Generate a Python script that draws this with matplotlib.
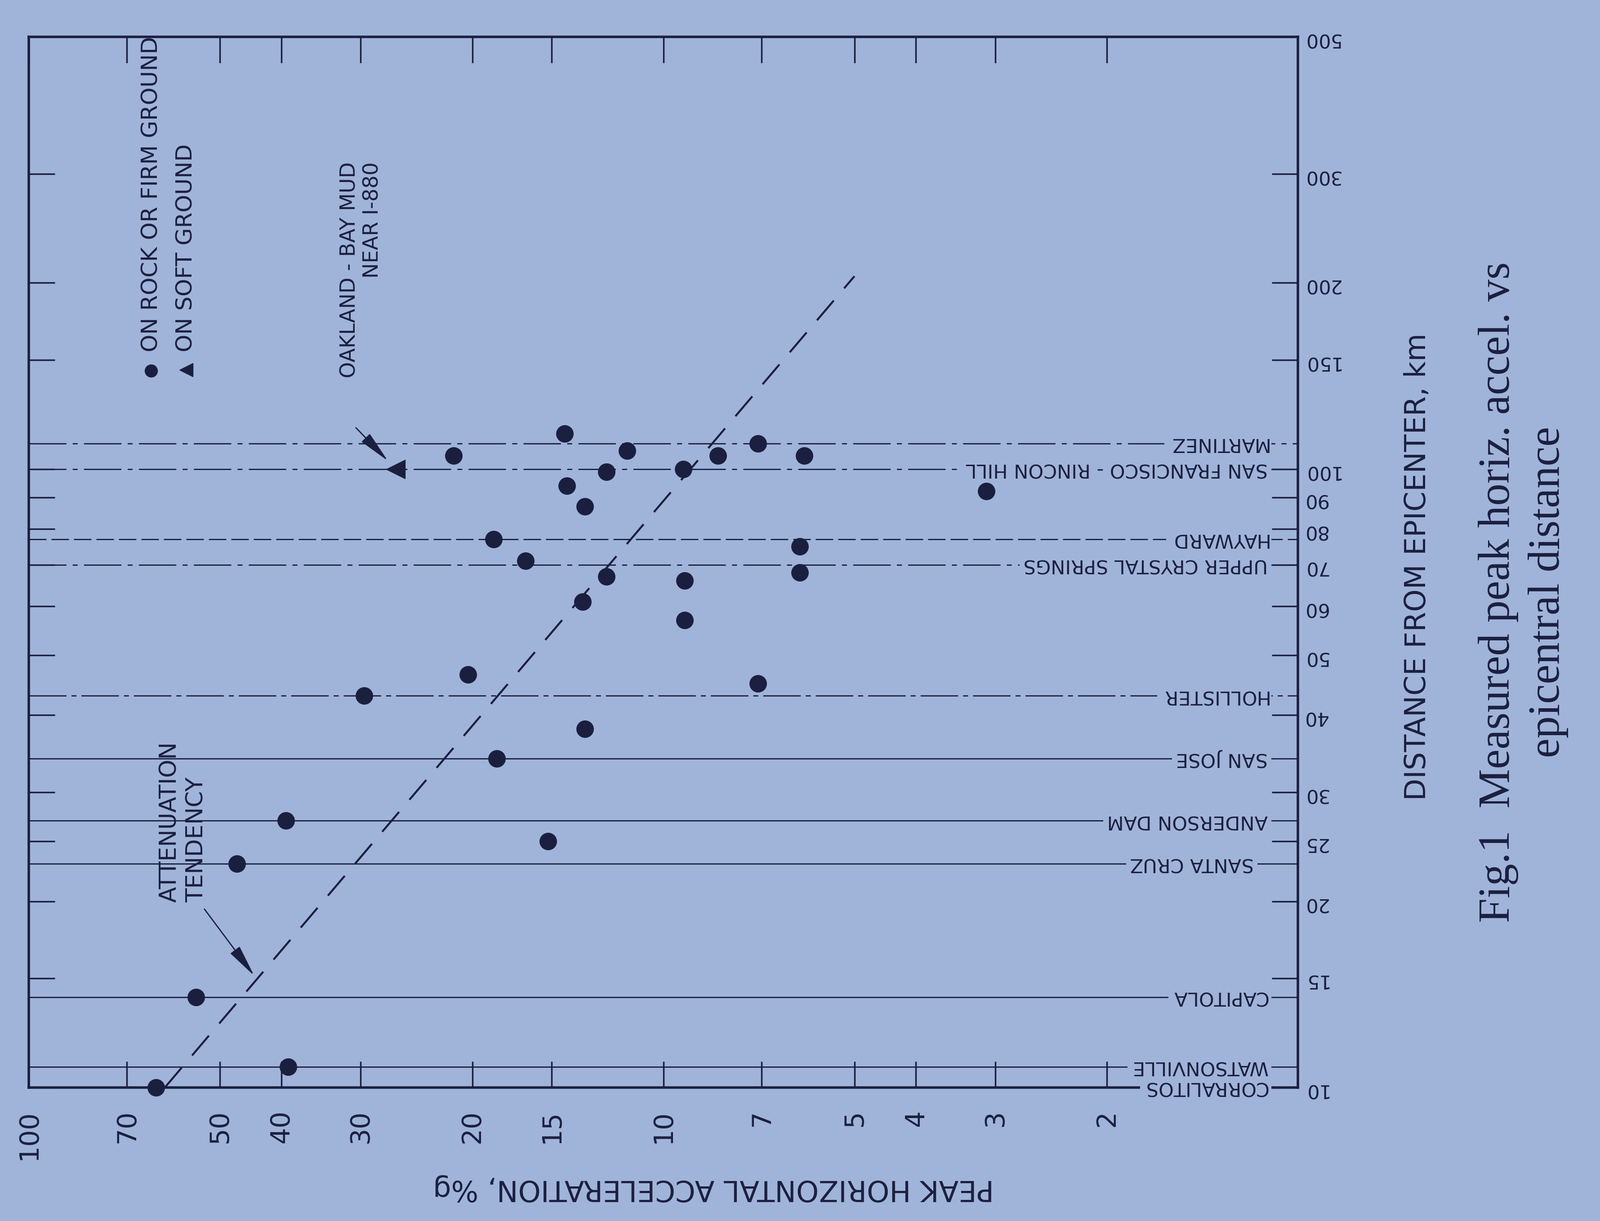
import matplotlib
matplotlib.use("Agg")
import matplotlib.pyplot as plt
from matplotlib.ticker import NullLocator

# colours of the photographed page
bg = "#a0b4d9"
ink = "#1b1f3f"

# axis ticks
acc_ticks = [100, 70, 50, 40, 30, 20, 15, 10, 7, 5, 4, 3, 2]
dist_ticks = [10, 15, 20, 25, 30, 40, 50, 60, 70, 80, 90, 100, 150, 200, 300, 500]

# recording stations (distance from epicenter, km)
station_names = ["CORRALITOS", "WATSONVILLE", "CAPITOLA", "SANTA CRUZ", "ANDERSON DAM",
                 "SAN JOSE", "HOLLISTER", "UPPER CRYSTAL SPRINGS", "HAYWARD",
                 "SAN FRANCISCO - RINCON HILL", "MARTINEZ"]
station_dist = [10, 10.8, 14, 23, 27, 34, 43, 70, 77, 100, 110]

# measured peak acceleration (%g) vs distance (km), rock / firm ground
rock_acc = [14.3, 21.4, 11.4, 7.1, 8.2, 6.0, 12.3, 9.3, 14.2, 13.3, 3.1,
            18.5, 6.1, 16.5, 12.3, 9.25, 6.1, 13.4, 9.25, 20.3, 7.1, 29.6,
            13.3, 18.3, 39.3, 15.2, 47, 54.5, 39, 63]
rock_dist = [114, 105, 107, 110, 105, 105, 99, 100, 94, 87, 92,
             77, 75, 71, 67, 66, 68, 61, 57, 46.5, 45, 43,
             38, 34, 27, 25, 23, 14, 10.8, 10]

# soft ground (Oakland, bay mud)
soft_acc = [26.4]
soft_dist = [100]

# attenuation tendency line
att_acc = [61, 5.0]
att_dist = [10, 205]

plt.rcParams["font.family"] = ["DejaVu Sans"]

fig = plt.figure(figsize=(35.59, 27.17), dpi=100, facecolor=bg)
ax = fig.add_axes([0.0179, 0.1094, 0.7934, 0.8605], facecolor=bg)

ax.set_xscale("log")
ax.set_yscale("log")
ax.set_xlim(100, 1)
ax.set_ylim(10, 500)

ax.xaxis.set_minor_locator(NullLocator())
ax.yaxis.set_minor_locator(NullLocator())
ax.set_xticks(acc_ticks)
ax.set_xticklabels([str(v) for v in acc_ticks])
ax.set_yticks(dist_ticks)
ax.set_yticklabels([str(v) for v in dist_ticks])

ax.tick_params(axis="x", direction="in", length=42, width=2.5, color=ink,
               top=True, bottom=True, labelrotation=90, labelsize=42,
               labelcolor=ink, pad=36)
ax.tick_params(axis="y", direction="in", length=42, width=2.5, color=ink,
               left=True, right=True, labelleft=False, labelright=True,
               labelrotation=180, labelsize=31, labelcolor=ink, pad=8)
for s in ax.spines.values():
    s.set_color(ink)
    s.set_linewidth(4)

# station lines with upside-down labels
styles = ["-", "-", "-", "-", "-", "-", (0, (30, 4, 4, 4)), (0, (30, 5, 4, 5)),
          (0, (14, 4)), (0, (30, 5, 4, 5)), (0, (30, 5, 4, 5))]
for name, d, st in zip(station_names, station_dist, styles):
    if d > 10:
        ax.axhline(d, color=ink, lw=2, ls=st, zorder=1)
    xpos = 0.965 if name == "SANTA CRUZ" else 0.976
    ax.text(xpos, d, name, transform=ax.get_yaxis_transform(), rotation=180,
            rotation_mode="anchor", ha="left", va="center", fontsize=31,
            color=ink, zorder=3,
            bbox=dict(boxstyle="square,pad=0.2", fc=bg, ec="none"))

# attenuation tendency
ax.plot(att_acc, att_dist, color=ink, lw=3.2, ls=(0, (13, 8)), zorder=2)

# data points
ax.plot(rock_acc, rock_dist, "o", ms=27, color=ink, clip_on=False, zorder=5)
ax.plot(soft_acc, soft_dist, "<", ms=30, color=ink, clip_on=False, zorder=5)

# annotations
ax.text(0.122, 0.176, "ATTENUATION\nTENDENCY", transform=ax.transAxes,
        rotation=90, rotation_mode="anchor", ha="left", va="center",
        multialignment="left", fontsize=37, color=ink, linespacing=1.25)
ax.annotate("", xy=(44, 15.1), xytext=(53, 19.5),
            arrowprops=dict(arrowstyle="-|>,head_length=1.4,head_width=0.25",
                            color=ink, lw=2, mutation_scale=32))

ax.text(0.262, 0.881, "OAKLAND - BAY MUD\nNEAR I-880", transform=ax.transAxes,
        rotation=90, rotation_mode="anchor", ha="right", va="center",
        multialignment="right", fontsize=33, color=ink, linespacing=1.15)
ax.annotate("", xy=(26.4, 100), xytext=(30.6, 117),
            arrowprops=dict(arrowstyle="-|>,head_length=1.4,head_width=0.25",
                            color=ink, lw=2, mutation_scale=32, shrinkB=18))

# legend
ax.plot([0.0965], [0.682], "o", ms=20, color=ink, transform=ax.transAxes, clip_on=False)
ax.plot([0.124], [0.683], "<", ms=22, color=ink, transform=ax.transAxes, clip_on=False)
ax.text(0.0965, 0.700, "ON ROCK OR FIRM GROUND", transform=ax.transAxes,
        rotation=90, rotation_mode="anchor", ha="left", va="center",
        fontsize=36, color=ink)
ax.text(0.124, 0.700, "ON SOFT GROUND", transform=ax.transAxes,
        rotation=90, rotation_mode="anchor", ha="left", va="center",
        fontsize=36, color=ink)

# axis titles and caption
fig.text(0.446, 0.027, "PEAK HORIZONTAL ACCELERATION, %g", rotation=180,
         ha="center", va="center", fontsize=46, color=ink)
fig.text(0.886, 0.536, "DISTANCE FROM EPICENTER, km", rotation=90,
         ha="center", va="center", fontsize=46, color=ink)
fig.text(0.952, 0.515, "Fig.1  Measured peak horiz. accel. vs\nepicentral distance",
         rotation=90, ha="center", va="center", multialignment="center",
         fontsize=71, color=ink, family=["Liberation Serif", "DejaVu Serif"],
         linespacing=1.3)

fig.savefig("out.png", dpi=100, facecolor=bg)
